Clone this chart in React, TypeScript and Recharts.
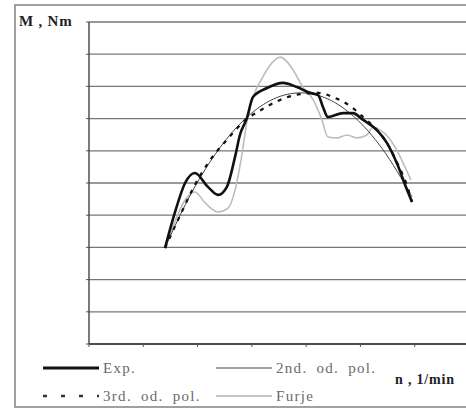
import { LineChart, Line, XAxis, YAxis, CartesianGrid } from "recharts"

// n, 1/min in axis-tick units (0..7), M, Nm in grid units (0..10)
const expN = [1.4, 1.58, 1.77, 1.95, 2.19, 2.38, 2.54, 2.69, 2.78, 2.91, 3.02, 3.28, 3.57, 3.83, 4.07, 4.22, 4.31, 4.4, 4.68, 4.86, 5.05, 5.3, 5.49, 5.67, 5.86, 5.95]
const expM = [2.98, 4.07, 5.0, 5.31, 4.88, 4.63, 4.88, 5.81, 6.49, 7.02, 7.67, 7.95, 8.11, 7.98, 7.8, 7.73, 7.36, 7.05, 7.17, 7.17, 6.96, 6.65, 6.24, 5.62, 4.78, 4.41]

const pol2N = [1.4, 1.9, 2.4, 2.9, 3.4, 3.9, 4.4, 4.9, 5.4, 5.95]
const pol2M = [3.0, 4.73, 6.07, 7.03, 7.61, 7.8, 7.61, 7.03, 6.07, 4.57]

const pol3N = [1.4, 1.68, 1.95, 2.23, 2.54, 2.84, 3.2, 3.52, 3.89, 4.22, 4.49, 4.81, 5.05, 5.3, 5.49, 5.67, 5.86, 5.95]
const pol3M = [2.98, 4.0, 4.94, 5.71, 6.34, 6.89, 7.3, 7.58, 7.76, 7.8, 7.67, 7.39, 7.05, 6.65, 6.24, 5.65, 4.91, 4.41]

const furjeN = [1.4, 1.58, 1.77, 1.95, 2.14, 2.38, 2.56, 2.69, 2.8, 2.93, 3.06, 3.2, 3.37, 3.52, 3.65, 3.76, 3.94, 4.13, 4.29, 4.4, 4.57, 4.75, 4.94, 5.12, 5.23, 5.36, 5.51, 5.67, 5.82, 5.93]
const furjeM = [2.98, 3.79, 4.47, 4.72, 4.38, 4.1, 4.22, 4.78, 5.71, 7.11, 7.83, 8.29, 8.73, 8.91, 8.76, 8.51, 7.98, 7.58, 6.96, 6.43, 6.4, 6.49, 6.4, 6.49, 6.74, 6.65, 6.43, 6.02, 5.5, 5.09]

const xTicks = [0, 1, 2, 3, 4, 5, 6, 7]
const yTicks = [0, 1, 2, 3, 4, 5, 6, 7, 8, 9, 10]

const toRows = (n: number[], m: number[]) => n.map((v, i) => ({ n: v, m: m[i] }))

const expData = toRows(expN, expM)
const pol2Data = toRows(pol2N, pol2M)
const pol3Data = toRows(pol3N, pol3M)
const furjeData = toRows(furjeN, furjeM)

const serif = '"Liberation Serif", "DejaVu Serif", serif'

const noLabel = () => <g />

function LegendItem({ x, y, label, stroke, width, dash }: { x: number; y: number; label: string; stroke: string; width: number; dash?: string }) {
  return (
    <div style={{ position: "absolute", left: x, top: y - 10, height: 20, display: "flex", alignItems: "center" }}>
      <svg width={56} height={20} style={{ display: "block" }}>
        <line x1={0} y1={10} x2={56} y2={10} stroke={stroke} strokeWidth={width} strokeDasharray={dash} />
      </svg>
      <span style={{ marginLeft: 4, fontFamily: serif, fontSize: 15, color: "#6a6a6a", letterSpacing: 1.3, wordSpacing: 4, whiteSpace: "nowrap" }}>
        {label}
      </span>
    </div>
  )
}

export default function App() {
  return (
    <div style={{ position: "fixed", left: 0, top: 0, width: 466, height: 409, overflow: "hidden", background: "#fff" }}>
      <div style={{ position: "absolute", left: 14, top: 4, width: 480, height: 400, border: "2px solid #a0a0a0" }} />
      <div style={{ position: "absolute", left: 0, top: 0 }}>
        <LineChart width={480} height={409} margin={{ top: 22, left: 88, right: 11, bottom: 64 }}>
          <CartesianGrid horizontal vertical={false} stroke="#777" strokeWidth={1.3} />
          <XAxis
            dataKey="n"
            type="number"
            domain={[0, 7]}
            ticks={xTicks}
            height={1}
            tick={noLabel}
            tickSize={3}
            axisLine={{ stroke: "#333", strokeWidth: 1.3 }}
            tickLine={{ stroke: "#555" }}
            allowDuplicatedCategory={false}
          />
          <YAxis
            type="number"
            domain={[0, 10]}
            ticks={yTicks}
            width={1}
            tick={noLabel}
            tickSize={3}
            axisLine={{ stroke: "#333", strokeWidth: 1.3 }}
            tickLine={{ stroke: "#555" }}
          />
          <Line data={furjeData} dataKey="m" type="monotone" stroke="#bdbdbd" strokeWidth={1.6} dot={false} isAnimationActive={false} />
          <Line data={pol2Data} dataKey="m" type="monotone" stroke="#444" strokeWidth={1} dot={false} isAnimationActive={false} />
          <Line data={expData} dataKey="m" type="monotone" stroke="#111" strokeWidth={2.6} dot={false} isAnimationActive={false} />
          <Line data={pol3Data} dataKey="m" type="monotone" stroke="#111" strokeWidth={2.2} strokeDasharray="4 6" dot={false} isAnimationActive={false} />
        </LineChart>
      </div>
      <div style={{ position: "absolute", left: 19, top: 13, fontFamily: serif, fontWeight: "bold", fontSize: 15, color: "#222", whiteSpace: "nowrap", letterSpacing: 0.8 }}>
        M , Nm
      </div>
      <div style={{ position: "absolute", left: 395, top: 372, fontFamily: serif, fontWeight: "bold", fontSize: 14, color: "#222", whiteSpace: "nowrap", letterSpacing: 0.8 }}>
        n , 1/min
      </div>
      <LegendItem x={43} y={368} label="Exp." stroke="#111" width={3} />
      <LegendItem x={43} y={396} label="3rd. od. pol." stroke="#333" width={2.5} dash="4 14" />
      <LegendItem x={216} y={368} label="2nd. od. pol." stroke="#444" width={1.2} />
      <LegendItem x={216} y={396} label="Furje" stroke="#c4c4c4" width={2} />
    </div>
  )
}
